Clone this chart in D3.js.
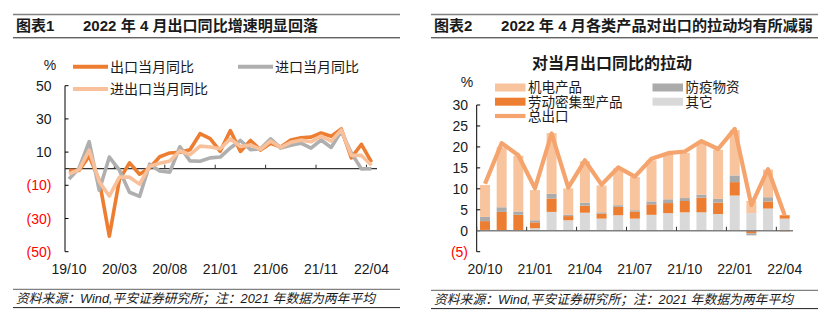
<!DOCTYPE html>
<html><head><meta charset="utf-8">
<script src="https://cdn.jsdelivr.net/npm/d3@7"></script>
<style>
body{margin:0;background:#fff}
svg{display:block}
text{font-family:"Liberation Sans",Arial,"Noto Sans CJK SC",sans-serif;fill:#1a1a1a}
</style>
</head><body>
<svg id="c" width="829" height="321"></svg>
<script>
// ---------- Chart 1 data ----------
const months1 = ["19/10","19/11","19/12","20/01","20/02","20/03","20/04","20/05","20/06","20/07","20/08","20/09","20/10","20/11","20/12","21/01","21/02","21/03","21/04","21/05","21/06","21/07","21/08","21/09","21/10","21/11","21/12","22/01","22/02","22/03","22/04"];
const exportYoY = [-0.9,-1.1,7.6,-7.0,-40.6,-6.6,3.5,-3.3,0.5,7.2,9.5,9.9,11.4,21.1,18.1,10.5,23.0,10.4,17.0,11.2,15.3,13.1,17.3,18.6,19.0,21.5,19.5,24.0,6.5,14.7,3.9];
const importYoY = [-6.2,0.3,16.3,-13.0,7.0,-0.9,-14.2,-16.7,2.7,-1.4,-2.1,13.2,4.7,4.5,6.5,7.0,12.5,17.0,11.5,12.0,18.0,12.4,14.1,15.4,12.4,17.3,12.8,22.6,9.5,-0.1,0.0];
const tradeYoY  = [-3.2,-0.6,11.1,-7.8,-16.5,-5.0,-5.1,-9.3,1.5,3.3,4.6,10.8,8.4,13.6,13.1,12.0,18.0,13.4,14.3,11.6,16.7,12.8,15.9,17.2,16.2,19.6,16.6,23.4,8.0,8.0,2.1];
const yTicks1 = [50,30,10,-10,-30,-50];
const xLabels1 = ["19/10","20/03","20/08","21/01","21/06","21/11","22/04"];
const seriesNames1 = ["出口当月同比","进口当月同比","进出口当月同比"];

// ---------- Chart 2 data ----------
const months2 = ["20/10","20/11","20/12","21/01","21/02","21/03","21/04","21/05","21/06","21/07","21/08","21/09","21/10","21/11","21/12","22/01","22/02","22/03","22/04"];
const otherC = [0.2,0.0,0.0,0.6,4.5,2.5,4.3,2.9,3.7,2.9,3.8,4.2,4.4,4.4,4.0,8.4,4.2,5.3,2.9];
const laborC = [2.1,4.5,3.8,1.4,3.2,1.0,1.7,1.2,2.0,1.7,2.5,2.4,2.7,3.5,2.7,3.2,-0.6,1.7,0.8];
const epidC  = [1.0,1.1,0.8,0.5,1.1,0.3,0.7,0.3,0.4,0.3,0.7,0.9,0.7,0.7,0.9,1.6,-0.5,1.0,0.0];
const mechC  = [7.6,14.3,13.3,7.2,14.5,6.3,9.9,6.4,8.8,7.9,9.8,10.8,10.8,12.3,11.7,10.8,2.9,6.6,-0.2];
const totalC = [11.2,20.9,18.0,10.1,23.2,10.3,16.8,11.0,15.1,12.9,17.2,18.5,18.9,21.4,19.5,24.3,6.1,14.7,3.7];
const yTicks2 = [30,25,20,15,10,5,0,-5];
const xLabels2 = ["20/10","21/01","21/04","21/07","21/10","22/01","22/04"];
const seriesNames2 = ["机电产品","劳动密集型产品","防疫物资","其它","总出口"];

const svg = d3.select("#c");
const fmt = v => v < 0 ? "(" + Math.abs(v) + ")" : String(v);

// ---------- Headers & footers ----------
function frame(x0, x1, num, title, tLen, footY){
  svg.append("line").attr("x1",x0).attr("x2",x1).attr("y1",14.5).attr("y2",14.5).attr("stroke","#808080").attr("stroke-width",1.5);
  svg.append("line").attr("x1",x0).attr("x2",x1).attr("y1",37.8).attr("y2",37.8).attr("stroke","#222").attr("stroke-width",1);
  svg.append("text").attr("x",x0+3).attr("y",30.5).attr("font-size",15).attr("font-weight","bold").text(num);
  svg.append("text").attr("x",x0+70).attr("y",30.5).attr("font-size",15).attr("font-weight","bold")
     .attr("textLength",tLen).attr("lengthAdjust","spacingAndGlyphs").text(title);
  svg.append("line").attr("x1",x0).attr("x2",x1).attr("y1",footY-9).attr("y2",footY-9).attr("stroke","#808080").attr("stroke-width",1.2);
  svg.append("line").attr("x1",x0).attr("x2",x1).attr("y1",footY+9.3).attr("y2",footY+9.3).attr("stroke","#222").attr("stroke-width",1);
  svg.append("text").attr("x",x0+3).attr("y",footY+4.5).attr("font-size",13).attr("font-style","italic")
     .attr("textLength",359).attr("lengthAdjust","spacingAndGlyphs")
     .text("资料来源：Wind,平安证券研究所；注：2021 年数据为两年平均");
}
frame(13, 400, "图表1", "2022 年 4 月出口同比增速明显回落", 235, 298.3);
frame(431, 818, "图表2", "2022 年 4 月各类产品对出口的拉动均有所减弱", 312, 299.3);

// ---------- Chart 1 ----------
{
  const x = d3.scalePoint().domain(months1).range([69, 371.5]);
  const y = d3.scaleLinear().domain([-50, 50]).range([251.7, 85.7]);
  const step = x.step();
  const axX = 65;
  svg.append("line").attr("x1",axX).attr("x2",axX).attr("y1",y(50)).attr("y2",y(-50)).attr("stroke","#000").attr("stroke-width",1);
  yTicks1.forEach(t=>{
    svg.append("line").attr("x1",axX).attr("x2",axX+3.5).attr("y1",y(t)).attr("y2",y(t)).attr("stroke","#000");
    svg.append("text").attr("x",51.5).attr("y",y(t)).attr("dy","0.36em").attr("text-anchor","end")
      .attr("font-size",14).style("fill", t<0?"#ff0000":"#1a1a1a").text(fmt(t));
  });
  svg.append("line").attr("x1",axX).attr("x2",377).attr("y1",y(0)).attr("y2",y(0)).attr("stroke","#333").attr("stroke-width",1.2);
  [5,10,15,20,25,30].forEach(i=>{
    const tx = x(months1[i]) - step/2;
    svg.append("line").attr("x1",tx).attr("x2",tx).attr("y1",y(0)).attr("y2",y(0)-4).attr("stroke","#333");
  });
  xLabels1.forEach(l=>{
    svg.append("text").attr("x",x(l)).attr("y",274).attr("text-anchor","middle").attr("font-size",14).text(l);
  });
  svg.append("text").attr("x",50).attr("y",70).attr("text-anchor","middle").attr("font-size",14).text("%");
  const line = d3.line().x((d,i)=>x(months1[i])).y(d=>y(d)).curve(d3.curveLinear);
  const cols = ["#ED7D31","#AFAFAF","#F8C19B"];
  const data = [exportYoY, importYoY, tradeYoY];
  [0,1,2].forEach(k=>{
    svg.append("path").attr("d",line(data[k])).attr("fill","none").attr("stroke",cols[k])
       .attr("stroke-width",3.6).attr("stroke-linejoin","round");
  });
  const leg = [[73,66.7],[238,66.7],[73,89]];
  leg.forEach((p,k)=>{
    svg.append("line").attr("x1",p[0]).attr("x2",p[0]+35).attr("y1",p[1]).attr("y2",p[1]).attr("stroke",cols[k]).attr("stroke-width",4);
    svg.append("text").attr("x",p[0]+37).attr("y",p[1]).attr("dy","0.36em").attr("font-size",14).text(seriesNames1[k]);
  });
}

// ---------- Chart 2 ----------
{
  const x = d3.scaleBand().domain(months2).range([476.7, 793]).padding(0);
  const bw = x.bandwidth();
  const y = d3.scaleLinear().domain([-5, 30]).range([251.7, 105]);
  const axX = 476.7;
  svg.append("text").attr("x",612).attr("y",63.5).attr("dy","0.36em").attr("text-anchor","middle")
     .attr("font-size",16).attr("font-weight","bold").text("对当月出口同比的拉动");
  svg.append("text").attr("x",467).attr("y",86.5).attr("text-anchor","middle").attr("font-size",14).text("%");

  const rows = months2.map((m,i)=>({m, other:otherC[i], labor:laborC[i], epid:epidC[i], mech:mechC[i]}));
  const keys = ["other","labor","epid","mech"];
  const colors = {other:"#D9D9D9", labor:"#ED7D31", epid:"#ABABAB", mech:"#F8C49E"};
  const stack = d3.stack().keys(keys).offset(d3.stackOffsetDiverging)(rows);
  stack.forEach(s=>{
    svg.append("g").selectAll("rect").data(s).join("rect")
      .attr("x", d=>x(d.data.m) + bw*0.2)
      .attr("width", bw*0.6)
      .attr("y", d=>y(Math.max(d[0],d[1])))
      .attr("height", d=>Math.abs(y(d[0])-y(d[1])))
      .attr("fill", colors[s.key]);
  });
  svg.append("line").attr("x1",axX).attr("x2",axX).attr("y1",y(30)).attr("y2",y(-5)).attr("stroke","#000").attr("stroke-width",1);
  yTicks2.forEach(t=>{
    svg.append("line").attr("x1",axX).attr("x2",axX+3.5).attr("y1",y(t)).attr("y2",y(t)).attr("stroke","#000");
    svg.append("text").attr("x",468).attr("y",y(t)).attr("dy","0.36em").attr("text-anchor","end")
      .attr("font-size",14).style("fill", t<0?"#ff0000":"#1a1a1a").text(fmt(t));
  });
  svg.append("line").attr("x1",axX).attr("x2",793).attr("y1",y(0)).attr("y2",y(0)).attr("stroke","#808080").attr("stroke-width",1.5);
  for(let i=0;i<months2.length;i+=3){
    const tx = x(months2[i]);
    svg.append("line").attr("x1",tx).attr("x2",tx).attr("y1",y(0)).attr("y2",y(0)-4).attr("stroke","#333");
  }
  xLabels2.forEach(l=>{
    svg.append("text").attr("x",x(l)+bw/2).attr("y",274).attr("text-anchor","middle").attr("font-size",14).text(l);
  });
  const line = d3.line().x((d,i)=>x(months2[i])+bw/2).y(d=>y(d));
  svg.append("path").attr("d",line(totalC)).attr("fill","none").attr("stroke","#F4A46C")
     .attr("stroke-width",4.2).attr("stroke-linejoin","round");
  const L = [
    {k:"mech", x:495, y:87.5, t:"rect"},
    {k:"labor", x:495, y:101.7, t:"rect"},
    {k:"epid", x:652.5, y:87.5, t:"rect"},
    {k:"other", x:652.5, y:101.7, t:"rect"},
    {k:"total", x:495, y:116, t:"line"}
  ];
  const names = {mech:seriesNames2[0], labor:seriesNames2[1], epid:seriesNames2[2], other:seriesNames2[3], total:seriesNames2[4]};
  L.forEach(o=>{
    if(o.t==="rect"){
      svg.append("rect").attr("x",o.x).attr("y",o.y-4).attr("width",30.5).attr("height",8).attr("fill",colors[o.k]);
    } else {
      svg.append("line").attr("x1",o.x).attr("x2",o.x+30.5).attr("y1",o.y).attr("y2",o.y).attr("stroke","#F4A46C").attr("stroke-width",4.2);
    }
    svg.append("text").attr("x",o.x+33).attr("y",o.y).attr("dy","0.36em").attr("font-size",13.5).text(names[o.k]);
  });
}
</script>
</body></html>
